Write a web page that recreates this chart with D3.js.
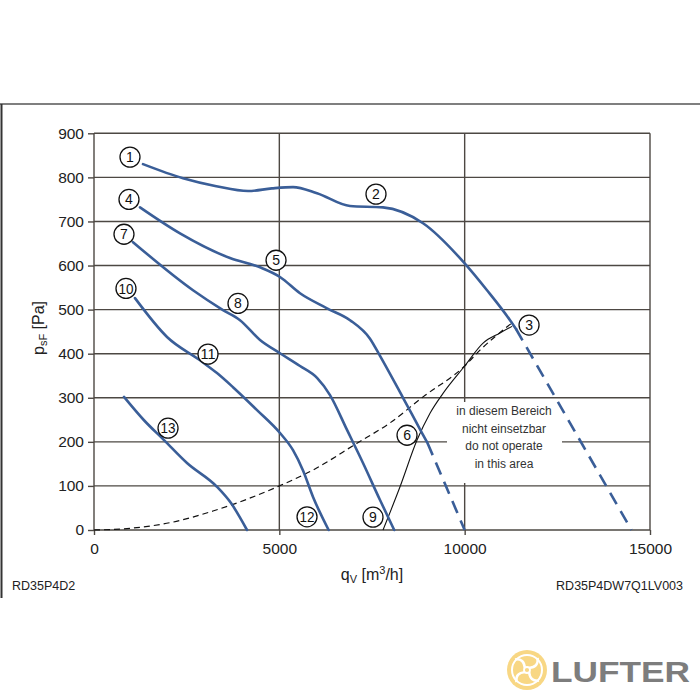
<!DOCTYPE html>
<html><head><meta charset="utf-8">
<script src="https://cdn.jsdelivr.net/npm/d3@7"></script>
<style>html,body{margin:0;padding:0;background:#fff;}svg{display:block;font-family:"Liberation Sans",Arial,sans-serif;}</style>
</head><body>
<svg id="c" width="700" height="700"></svg>
<script>
// ---- data ----
const xTicks = [0, 5000, 10000, 15000];
const yTicks = [0, 100, 200, 300, 400, 500, 600, 700, 800, 900];
// fan curves (solid part) [q m3/h, p Pa]
const curve1 = [[1322,830],[2401,798],[3300,780],[4155,769],[4800,775],[5369,778],[6017,764],[6907,735],[7797,732],[8877,696],[10000,605],[10603,544],[11224,476],[11386,456]];
const curve1Ext = [[11386,456],[14500,0]];
const curve4 = [[1241,732],[2320,673],[3669,617],[4479,596],[5018,574],[5558,537],[6286,503],[6907,476],[7446,434],[7716,395],[8337,300],[8850,220],[9000,197]];
const curve4Ext = [[9000,197],[10000,0]];
const curve7 = [[1052,653],[2671,544],[3480,499],[3939,476],[4479,431],[5018,401],[5558,372],[6017,345],[6367,306],[6826,227],[7257,152],[7716,68],[8100,0]];
const curve10 = [[1106,526],[1970,438],[2860,385],[3318,356],[3750,324],[4398,272],[5018,220],[5369,181],[5639,135],[5909,75],[6330,0]];
const curve13 = [[809,302],[1349,249],[1889,204],[2509,152],[3318,98],[3696,61],[4128,0]];
// system / limit curves
const systemCurve = [[0,0],[1000,4],[2131,18],[3210,43],[5000,100],[5909,136],[7096,197],[7986,243],[8877,302],[10000,372],[10414,408],[11280,470]];
const limitCurve = [[7797,0],[8256,98],[8715,204],[9065,265],[9416,310],[10000,372],[10496,424],[10954,447],[11280,462]];
// operating point markers
const markerNames = ["1","2","3","4","5","6","7","8","9","10","11","12","13"];
const markerQ = [971,7608,11737,944,4911,8445,809,3885,7527,863,3076,5747,1997];
const markerP = [846,762,465,750,612,215,671,514,29,548,399,30,231];
const noteLines = ["in diesem Bereich","nicht einsetzbar","do not operate","in this area"];

// ---- drawing ----
const svg = d3.select("#c");
const x = d3.scaleLinear().domain([0,15000]).range([94,650]);
const y = d3.scaleLinear().domain([0,900]).range([530,133.3]);
const gridCol = "#4d4843";
const blue = "#3a5e98";

// outer frame
svg.append("line").attr("x1",0).attr("x2",700).attr("y1",104).attr("y2",104).attr("stroke","#555").attr("stroke-width",1.5);
svg.append("line").attr("x1",1.5).attr("x2",1.5).attr("y1",104).attr("y2",598).attr("stroke","#333").attr("stroke-width",2);

// grid
const g = svg.append("g");
g.selectAll("line.h").data(yTicks).join("line")
  .attr("x1",x(0)).attr("x2",x(15000)).attr("y1",d=>y(d)).attr("y2",d=>y(d))
  .attr("stroke",gridCol).attr("stroke-width",1.4);
g.selectAll("line.v").data(xTicks).join("line")
  .attr("x1",d=>x(d)).attr("x2",d=>x(d)).attr("y1",y(0)).attr("y2",y(900))
  .attr("stroke",gridCol).attr("stroke-width",1.4);

// axes (ticks + labels)
const ya = svg.append("g").attr("transform",`translate(${x(0)},0)`)
  .call(d3.axisLeft(y).tickValues(yTicks).tickSize(6).tickPadding(4).tickFormat(d3.format("d")));
const xa = svg.append("g").attr("transform",`translate(0,${y(0)})`)
  .call(d3.axisBottom(x).tickValues(xTicks).tickSize(5).tickPadding(8).tickFormat(d3.format("d")));
[ya,xa].forEach(a=>{
  a.select(".domain").remove();
  a.selectAll(".tick line").attr("stroke",gridCol).attr("stroke-width",1.4);
  a.selectAll(".tick text").attr("fill","#222").style("font-size","15.5px").style("font-family","Liberation Sans, Arial, sans-serif");
});

// white area for note
svg.append("rect").attr("x",447).attr("y",402).attr("width",115).attr("height",81).attr("fill","#fff");
svg.append("g").selectAll("text").data(noteLines).join("text")
  .attr("x",504).attr("y",(d,i)=>415+i*17.5).attr("text-anchor","middle")
  .attr("fill","#333").style("font-size","12px").text(d=>d);

// curves
const line = d3.line().x(d=>x(d[0])).y(d=>y(d[1])).curve(d3.curveMonotoneX);
const straight = d3.line().x(d=>x(d[0])).y(d=>y(d[1]));
svg.append("path").attr("d",line(systemCurve)).attr("fill","none").attr("stroke","#111").attr("stroke-width",1.2).attr("stroke-dasharray","6,4");
svg.append("path").attr("d",line(limitCurve)).attr("fill","none").attr("stroke","#111").attr("stroke-width",1.1);
[curve1,curve4,curve7,curve10,curve13].forEach(c=>{
  svg.append("path").attr("d",line(c)).attr("fill","none").attr("stroke",blue).attr("stroke-width",2.6).attr("stroke-linecap","round");
});
[curve1Ext,curve4Ext].forEach(c=>{
  svg.append("path").attr("d",straight(c)).attr("fill","none").attr("stroke",blue).attr("stroke-width",2.6).attr("stroke-dasharray","13,8");
});

// markers
const mk = svg.append("g").selectAll("g").data(markerNames).join("g")
  .attr("transform",(d,i)=>`translate(${x(markerQ[i])},${y(markerP[i])})`);
mk.append("circle").attr("r",10).attr("fill","#fff").attr("stroke","#111").attr("stroke-width",1.3);
mk.append("text").attr("text-anchor","middle").attr("dy","0.36em").attr("fill","#111")
  .style("font-size","14px").each(function(d){
    const t=d3.select(this).text(d);
    if(d.length>1) t.attr("textLength",15).attr("lengthAdjust","spacingAndGlyphs");
  });

// axis titles
const yl = svg.append("text").attr("transform","translate(44,328) rotate(-90)").attr("text-anchor","middle").attr("fill","#222").style("font-size","16px");
yl.append("tspan").text("p");
yl.append("tspan").attr("dy",3).style("font-size","11px").text("sF");
yl.append("tspan").attr("dy",-3).text(" [Pa]");
const xl = svg.append("text").attr("x",372).attr("y",580).attr("text-anchor","middle").attr("fill","#222").style("font-size","16px");
xl.append("tspan").text("q");
xl.append("tspan").attr("dy",3).style("font-size","11px").text("V");
xl.append("tspan").attr("dy",-3).text(" [m");
xl.append("tspan").attr("dy",-6).style("font-size","11px").text("3");
xl.append("tspan").attr("dy",6).text("/h]");

svg.append("text").attr("x",12).attr("y",590).attr("fill","#222").style("font-size","12.5px").text("RD35P4D2");
svg.append("text").attr("x",683).attr("y",590).attr("text-anchor","end").attr("fill","#222").style("font-size","12.5px").text("RD35P4DW7Q1LV003");

// logo
const lg = svg.append("g").attr("transform","translate(527,670)");
lg.append("circle").attr("r",20).attr("fill","#f8d784");
lg.append("circle").attr("r",15).attr("fill","none").attr("stroke","#fff").attr("stroke-width",2);
for(let k=0;k<4;k++){
  lg.append("path").attr("d","M0,-3 C4,-8 4,-12 -1,-16").attr("fill","none").attr("stroke","#fff").attr("stroke-width",2.5)
    .attr("transform",`rotate(${k*90+45})`);
}
lg.append("circle").attr("r",3).attr("fill","none").attr("stroke","#fff").attr("stroke-width",1.8);
svg.append("text").attr("x",551).attr("y",682).attr("fill","#7d7d7d").style("font-size","30px").style("font-weight","bold")
  .attr("textLength",139).attr("lengthAdjust","spacingAndGlyphs").text("LUFTER");
</script>
</body></html>
